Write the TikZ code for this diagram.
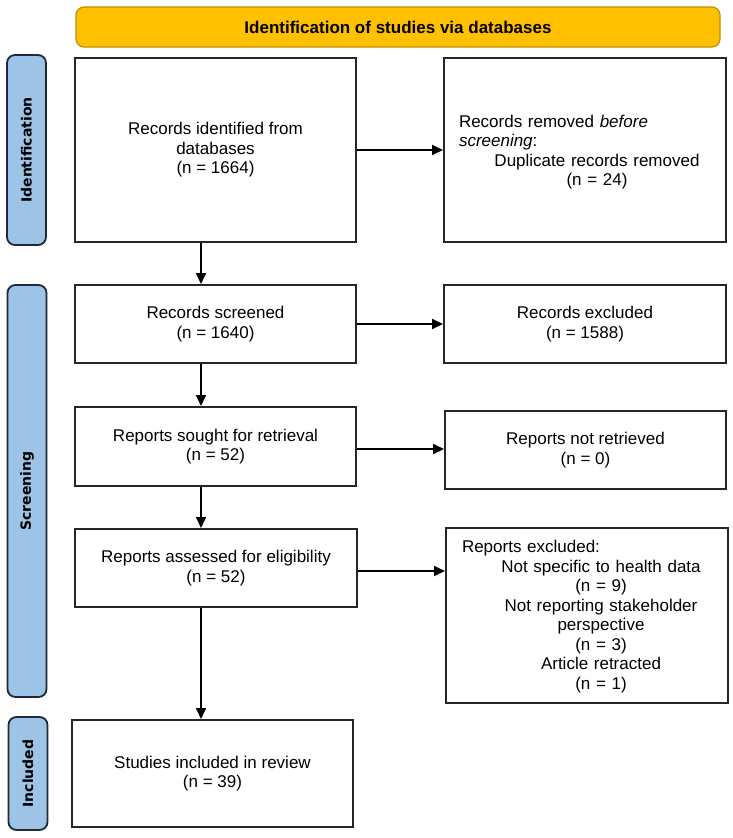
\documentclass[tikz,border=0pt]{standalone}
\usepackage{fontspec}
\setmainfont{Liberation Sans}
\newfontfamily\sidefont{DejaVu Sans}
\usetikzlibrary{arrows.meta}
\definecolor{hdrfill}{HTML}{FFC000}
\definecolor{hdrline}{HTML}{BF9000}
\definecolor{sidefill}{HTML}{9DC3E6}
\definecolor{sideline}{HTML}{1F2A38}
\begin{document}
\begin{tikzpicture}[x=1pt,y=-1pt,
  box/.style={draw=black!85, line width=2pt, fill=white, inner sep=0pt},
  bodytext/.style={font=\fontsize{17}{19.5}\selectfont, align=center},
  hdr/.style={draw=hdrline, fill=hdrfill, line width=1.2pt, rounded corners=8pt,
    minimum width=644pt, minimum height=40pt, inner sep=0pt,
    font=\bfseries\fontsize{17}{19}\selectfont},
  side/.style={draw=sideline, fill=sidefill, line width=1.8pt, rounded corners=8pt,
    minimum height=39pt, inner sep=0pt, rotate=90,
    font=\sidefont\bfseries\fontsize{14}{16}\selectfont},
  arr/.style={line width=1.8pt, -{Triangle[length=11pt,width=10pt]}}]
\useasboundingbox[fill=white] (0,0) rectangle (733,838);

\node[hdr] (hdr) at (398,27) {Identification of studies via databases};

\node[side, minimum width=190pt] (s1) at (26.5,150) {Identification};
\node[side, minimum width=412pt] (s2) at (27,491) {Screening};
\node[side, minimum width=113pt] (s3) at (28,773.5) {Included};

\node[box, bodytext, minimum width=281pt, minimum height=184pt] (b1) at (215.5,150)
  {Records identified from\\databases\\(n = 1664)};
\node[box, minimum width=282pt, minimum height=184pt] (b2) at (585,150) {};
\node[inner sep=0pt, text width=276pt, font=\fontsize{17}{19.5}\selectfont] (t2) at (597,152)
  {{\raggedright Records removed \textit{before}\\\textit{screening}:\par}%
   {\centering Duplicate records removed\\(n = 24)\par}};

\node[box, bodytext, minimum width=281pt, minimum height=78pt] (b3) at (215.5,324)
  {Records screened\\(n = 1640)};
\node[box, bodytext, minimum width=282pt, minimum height=78pt] (b4) at (585,324)
  {Records excluded\\(n = 1588)};

\node[box, bodytext, minimum width=281pt, minimum height=79pt] (b5) at (215.5,446.5)
  {Reports sought for retrieval\\(n = 52)};
\node[box, bodytext, minimum width=281pt, minimum height=78pt] (b6) at (585.5,450)
  {Reports not retrieved\\(n = 0)};

\node[box, bodytext, minimum width=282pt, minimum height=78pt] (b7) at (216,568)
  {Reports assessed for eligibility\\(n = 52)};
\node[box, minimum width=282pt, minimum height=175pt] (b8) at (587,615.5) {};
\node[inner sep=0pt, text width=278pt, font=\fontsize{17}{19.5}\selectfont] (t8) at (601,616.5)
  {{\raggedright Reports excluded:\par}%
   {\centering Not specific to health data\\(n = 9)\\Not reporting stakeholder\\perspective\\(n = 3)\\Article retracted\\(n = 1)\par}};

\node[box, bodytext, minimum width=281pt, minimum height=107pt] (b9) at (212.5,773.5)
  {Studies included in review\\(n = 39)};

\coordinate (ax) at (201,0);
\coordinate (a3) at (0,449);
\coordinate (a4) at (0,571);
\draw[arr] (b1.south -| ax) -- (b3.north -| ax);
\draw[arr] (b3.south -| ax) -- (b5.north -| ax);
\draw[arr] (b5.south -| ax) -- (b7.north -| ax);
\draw[arr] (b7.south -| ax) -- (b9.north -| ax);

\draw[arr] (b1.east) -- (b2.west);
\draw[arr] (b3.east) -- (b4.west);
\draw[arr] (b5.east |- a3) -- (b6.west |- a3);
\draw[arr] (b7.east |- a4) -- (b8.west |- a4);
\end{tikzpicture}
\end{document}
